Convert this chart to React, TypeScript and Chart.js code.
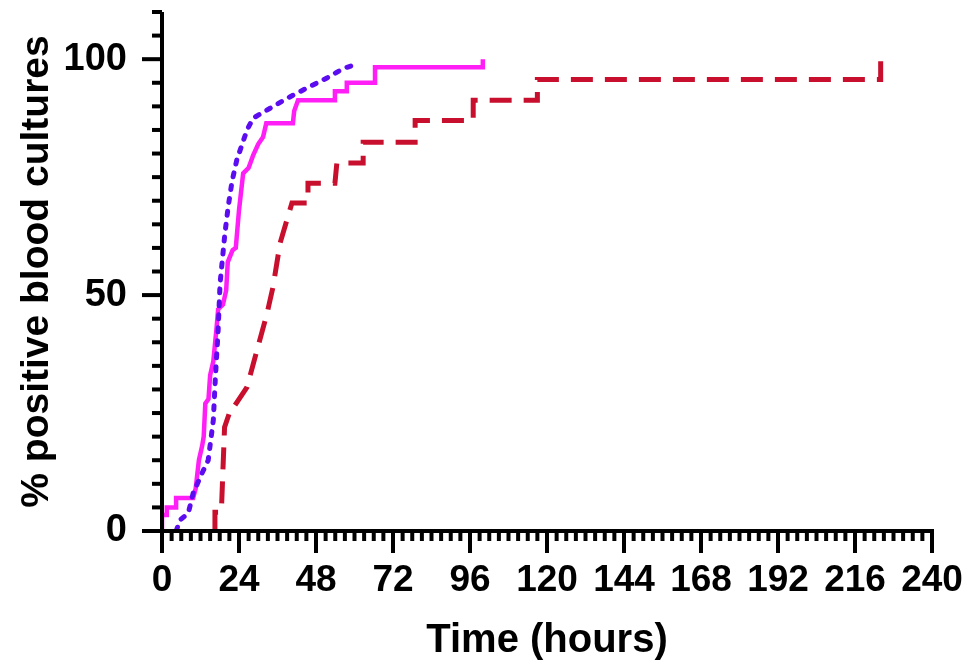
import React, { useEffect, useRef } from "react";
import { Chart, registerables } from "chart.js";
Chart.register(...registerables);

const magenta: [number, number][] = [[0,0],[0,3.4],[1.5,3.4],[1.5,5],[4.4,5],[4.4,7],[9.7,7],[10.5,9],[11.5,15],[12.5,18],[13,20],[13.5,27],[14.5,28],[15,33],[16,36],[17,43],[17.5,47],[19,48],[20,51],[20.5,57],[22,59.5],[23,60],[24,68],[25.3,75.8],[27,77],[28.4,79.6],[30,82],[31.5,83.5],[32.5,86.4],[40.8,86.4],[41.2,89],[42.4,91.3],[53.9,91.3],[53.9,93.2],[57.6,93.2],[57.6,95],[66.4,95],[66.4,98.3],[100,98.3],[100,100]];
const purple: [number, number][] = [[4.4,0],[5.6,2.3],[8.2,3.8],[9.7,8],[12.5,12.3],[14.4,15],[16,23.5],[16.6,32],[17.5,42.6],[18.1,52.5],[19.6,63],[20.6,68.6],[21.8,74],[23.3,78.6],[26.5,85],[28.4,87.5],[33.7,89.6],[39,91.7],[45.2,93.9],[51.4,96],[56.4,98],[59.5,98.7]];
const red: [number, number][] = [[16.5,0],[16.5,4],[18.5,4],[19.5,22],[21.5,26],[22.1,26],[26.5,30.5],[29.6,38.3],[32.7,46],[34.6,51.7],[36.8,61],[40.5,69.5],[45.5,69.5],[45.5,73.7],[53.9,73.7],[54.5,78],[62.7,78],[62.7,82.4],[78.9,82.4],[78.9,87],[97,87],[97,91.3],[117,91.3],[117,95.7],[224,95.7],[224,100]];
const xTicks = [0, 24, 48, 72, 96, 120, 144, 168, 192, 216, 240];
const yTicks = [0, 50, 100];

const FONT = "'Liberation Sans', Arial, sans-serif";

const tickPlugin = {
  id: "ticksDraw",
  afterDraw(chart: any) {
    const ctx = chart.ctx;
    const xs = chart.scales.x, ys = chart.scales.y;
    const bottom = ys.getPixelForValue(0), left = xs.getPixelForValue(0);
    ctx.save();
    ctx.strokeStyle = "#000";
    ctx.lineWidth = 4;
    ctx.lineCap = "butt";
    for (let v = 0; v <= 110; v += 5) {
      const y = ys.getPixelForValue(v);
      const len = v % 50 === 0 ? 20 : 10;
      ctx.beginPath(); ctx.moveTo(left, y); ctx.lineTo(left - len, y); ctx.stroke();
    }
    for (let v = 0; v <= 240; v += 3) {
      const x = xs.getPixelForValue(v);
      const len = v % 24 === 0 ? 22 : 10;
      ctx.beginPath(); ctx.moveTo(x, bottom); ctx.lineTo(x, bottom + len); ctx.stroke();
    }
    ctx.beginPath(); ctx.moveTo(left, ys.getPixelForValue(110)); ctx.lineTo(left, bottom + 2); ctx.stroke();
    ctx.beginPath(); ctx.moveTo(left - 2, bottom); ctx.lineTo(xs.getPixelForValue(240) + 2, bottom); ctx.stroke();
    ctx.restore();
  },
};

export default function App() {
  const ref = useRef<HTMLCanvasElement>(null);
  useEffect(() => {
    const toPts = (a: [number, number][]) => a.map(([x, y]) => ({ x, y }));
    const chart = new Chart(ref.current!, {
      type: "line",
      data: {
        datasets: [
          { data: toPts(red), borderColor: "#C8102E", borderWidth: 5, borderDash: [22, 12], pointRadius: 0, fill: false },
          { data: toPts(purple), borderColor: "#5B0CF0", borderWidth: 5, borderDash: [4, 9], borderCapStyle: "round", pointRadius: 0, fill: false },
          { data: toPts(magenta), borderColor: "#FF1EF5", borderWidth: 4.5, pointRadius: 0, fill: false },
        ],
      },
      options: {
        animation: false,
        responsive: false,
        layout: { padding: { left: 0, right: 35, top: 12, bottom: 0 } },
        plugins: { legend: { display: false }, tooltip: { enabled: false } },
        scales: {
          x: {
            type: "linear", min: 0, max: 240,
            grid: { display: false }, border: { display: false },
            afterBuildTicks: (s: any) => { s.ticks = xTicks.map((v) => ({ value: v })); },
            afterFit: (s: any) => { s.height = 140; s.paddingLeft = 0; s.paddingRight = 0; },
            ticks: { padding: 20, color: "#000", font: { family: FONT, size: 37, weight: "bold" }, maxRotation: 0 },
            title: { display: true, text: "Time (hours)", color: "#000", font: { family: FONT, size: 40, weight: "bold" }, padding: { top: 6, bottom: 6 } },
          },
          y: {
            min: 0, max: 110,
            grid: { display: false }, border: { display: false },
            afterBuildTicks: (s: any) => { s.ticks = yTicks.map((v) => ({ value: v })); },
            afterFit: (s: any) => { s.width = 162; s.paddingTop = 0; s.paddingBottom = 0; },
            ticks: { padding: 27, color: "#000", font: { family: FONT, size: 38, weight: "bold" } },
            title: { display: true, text: "% positive blood cultures", color: "#000", font: { family: FONT, size: 39, weight: "bold" }, padding: { top: 14, bottom: 14 } },
          },
        },
      },
      plugins: [tickPlugin],
    });
    return () => chart.destroy();
  }, []);
  return (
    <div style={{ position: "absolute", left: 0, top: 0, width: 967, height: 671, background: "#fff" }}>
      <canvas ref={ref} width={967} height={671} style={{ width: 967, height: 671 }} />
    </div>
  );
}
